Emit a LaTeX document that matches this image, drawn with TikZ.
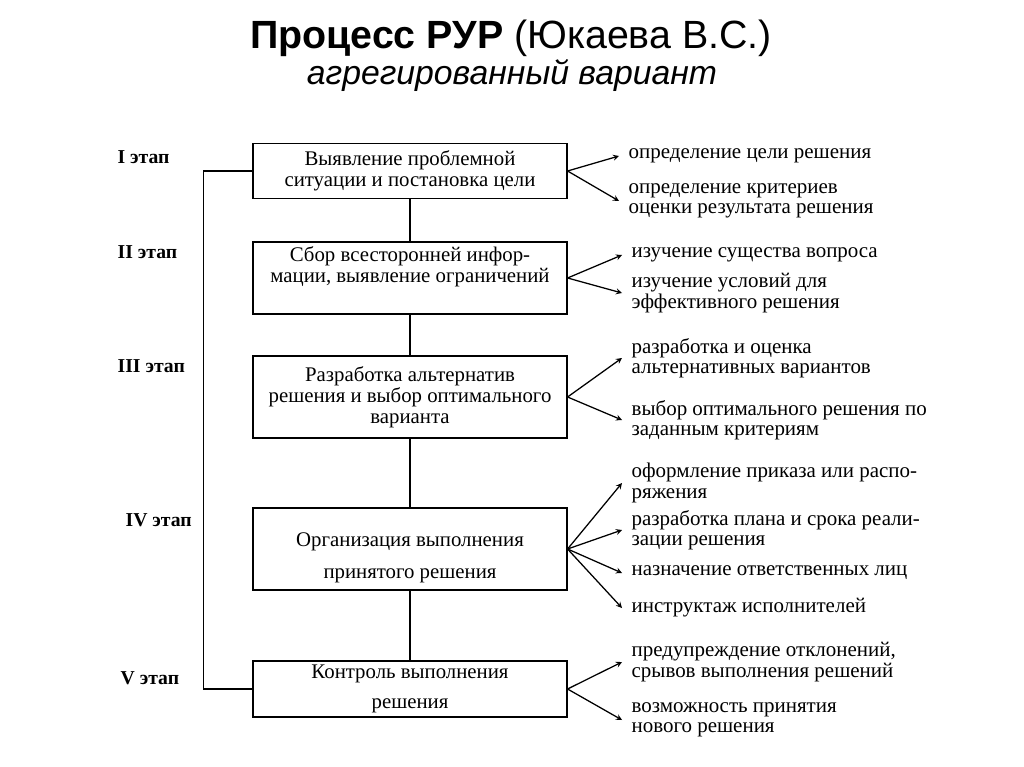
\documentclass[tikz,border=0pt]{standalone}
\usepackage{fontspec}
\setmainfont{Liberation Serif}
\newfontfamily\titlefont{Liberation Sans}

\begin{document}
\begin{tikzpicture}[x=0.025cm,y=-0.025cm,>=stealth,line width=0.9pt,
    etap/.style={draw,line width=1.1pt,minimum width=223pt,align=center,font=\fontsize{14.8}{15}\selectfont},
    item/.style={anchor=west,align=left,inner xsep=6.4pt,inner ysep=0pt,font=\fontsize{14.9}{14.6}\selectfont},
    stage/.style={anchor=west,inner sep=0pt,font=\bfseries\fontsize{14}{15}\selectfont}]
  \useasboundingbox (0,0) rectangle (1024,767);

  \node[font=\titlefont\fontsize{28}{32}\selectfont] (title) at (511,38) {\textbf{Процесс РУР} (Юкаева В.С.)};
  \node[font=\titlefont\itshape\fontsize{24}{28}\selectfont] (subtitle) at (512,76) {агрегированный вариант};

  % этапы
  \node[etap,minimum height=39pt] (e1) at (410,171) {Выявление проблемной\\ситуации и постановка цели};
  \node[etap,minimum height=50pt] (e2) at (410,278) {Сбор всесторонней инфор-\\мации, выявление ограничений\\[4pt]};
  \node[etap,minimum height=58pt] (e3) at (410,397) {Разработка альтернатив\\решения и выбор оптимального\\варианта};
  \node[etap,minimum height=58pt] (e4) at (410,549) {\rule{0pt}{22pt}Организация выполнения\\[8pt]принятого решения};
  \node[etap,minimum height=40pt,inner ysep=1pt] (e5) at (410,689) {Контроль выполнения\\[6pt]решения};

  \node[stage] (s1) at (117,157) {I этап};
  \node[stage] (s2) at (117,252) {II этап};
  \node[stage] (s3) at (117,366) {III этап};
  \node[stage] (s4) at (125,520) {IV этап};
  \node[stage] (s5) at (120,678) {V этап};

  \draw (e1) -- (e2);
  \draw (e2) -- (e3);
  \draw (e3) -- (e4);
  \draw (e4) -- (e5);
  \draw (e5.west) -- ++(-49,0) |- (e1.west);

  % результаты этапов
  \node[item] (i11) at (619,156) {определение цели решения};
  \node[item] (i12) at (619,201) {определение критериев\\оценки результата решения};
  \node[item] (i21) at (622,255) {изучение существа вопроса};
  \node[item] (i22) at (622,293) {изучение условий для\\эффективного решения};
  \node[item] (i31) at (622,358) {разработка и оценка\\альтернативных вариантов};
  \node[item] (i32) at (622,420) {выбор оптимального решения по\\заданным критериям};
  \node[item] (i41) at (622,483) {оформление приказа или распо-\\ряжения};
  \node[item] (i42) at (622,530) {разработка плана и срока реали-\\зации решения};
  \node[item] (i43) at (622,573) {назначение ответственных лиц};
  \node[item] (i44) at (622,608) {инструктаж исполнителей};
  \node[item] (i51) at (622,662) {предупреждение отклонений,\\срывов выполнения решений};
  \node[item] (i52) at (622,720) {возможность принятия\\нового решения};

  \foreach \a/\b in {e1/i11,e1/i12,e2/i21,e2/i22,e3/i31,e3/i32,e4/i41,e4/i42,e4/i43,e4/i44,e5/i51,e5/i52}
    \draw[->] (\a.east) -- (\b.west);
\end{tikzpicture}
\end{document}
